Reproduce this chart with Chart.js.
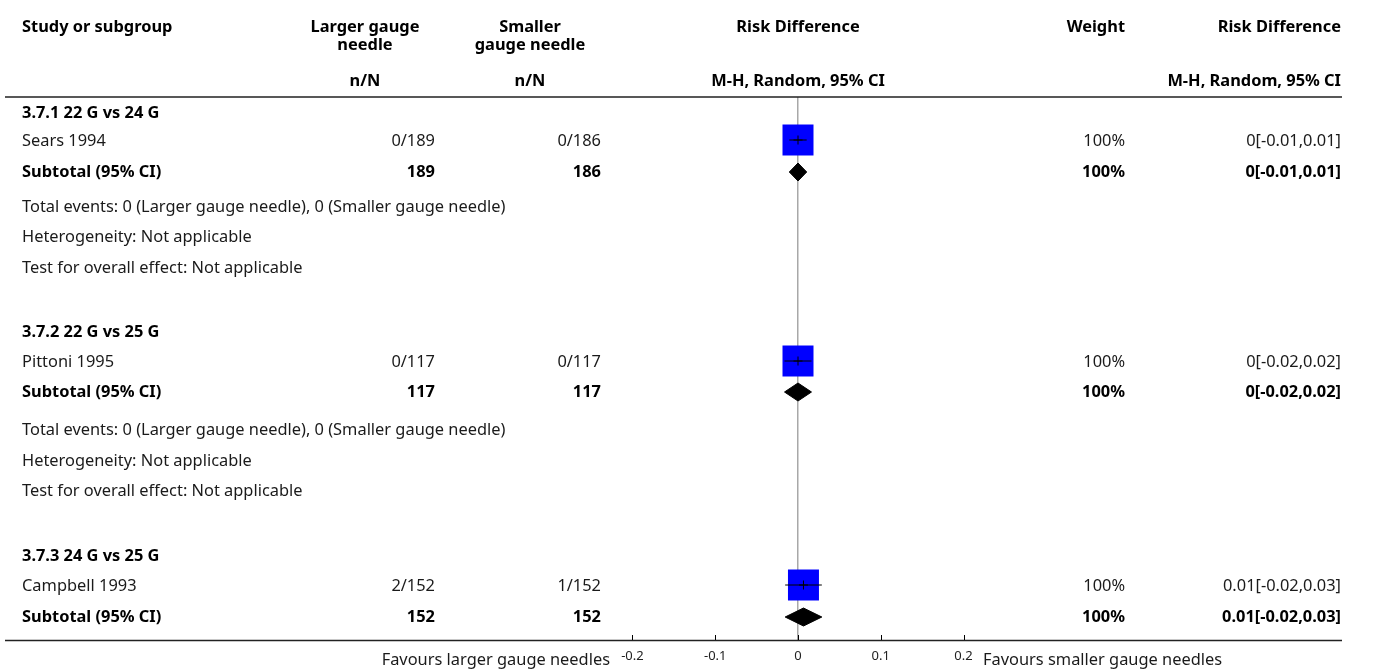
<!DOCTYPE html>
<html>
<head>
<meta charset="utf-8">
<script src="https://cdn.jsdelivr.net/npm/chart.js@4/dist/chart.umd.min.js"></script>
<style>
  html, body { margin: 0; padding: 0; background: #fff; }
  #wrap { width: 1375px; height: 671px; }
</style>
</head>
<body>
<div id="wrap"><canvas id="forest" width="1375" height="671"></canvas></div>
<script>
// ---- data ----
const groupTitles = ["3.7.1 22 G vs 24 G", "3.7.2 22 G vs 25 G", "3.7.3 24 G vs 25 G"];
const studyNames = ["Sears 1994", "Pittoni 1995", "Campbell 1993"];
const largerEvents = [0, 0, 2];
const largerTotal = [189, 117, 152];
const smallerEvents = [0, 0, 1];
const smallerTotal = [186, 117, 152];
const studyRD = [0, 0, 0.0066];
const studyLow = [-0.0105, -0.0163, -0.0155];
const studyHigh = [0.0105, 0.0163, 0.0288];
const subtotalRD = [0, 0, 0.0066];
const subtotalLow = [-0.0105, -0.0163, -0.0155];
const subtotalHigh = [0.0105, 0.0163, 0.0288];
const weights = ["100%", "100%", "100%"];
const rdLabels = ["0[-0.01,0.01]", "0[-0.02,0.02]", "0.01[-0.02,0.03]"];
const totalEvents = [
  "Total events: 0 (Larger gauge needle), 0 (Smaller gauge needle)",
  "Total events: 0 (Larger gauge needle), 0 (Smaller gauge needle)",
  null
];
const heterogeneity = ["Heterogeneity: Not applicable", "Heterogeneity: Not applicable", null];
const overallEffect = ["Test for overall effect: Not applicable", "Test for overall effect: Not applicable", null];
const tickValues = [-0.2, -0.1, 0, 0.1, 0.2];

// ---- layout (px below the header rule) ----
// heading, study, subtotal, total events, heterogeneity, overall effect
const rowY = [
  [16, 44, 75, 110, 140, 171],
  [235, 265, 295, 333, 364, 394],
  [459, 489, 520]
];
const TEXT = "#1a1a1a";
const FAMILY = "'Noto Sans', 'Open Sans', sans-serif";
const SIZE = 16.4;
const normal = SIZE + "px " + FAMILY;
const bold = "bold " + SIZE + "px " + FAMILY;
const DIAMOND_HALF = 9; // px, half height of the subtotal diamonds
const SQUARE_SIDE = 31;

const X_LEFT = 625, X_RIGHT = 971, TOP = 97, BOTTOM = 640;
const COL_STUDY = 22, COL_L = 435, COL_S = 601, COL_W = 1125, COL_RD = 1341;

// one dataset per CI whisker
const ciSets = studyNames.map((n, i) => ({
  data: [{ x: studyLow[i], y: rowY[i][1] - 1 }, { x: studyHigh[i], y: rowY[i][1] - 1 }],
  showLine: true, borderColor: "#000", borderWidth: 1, pointRadius: 0
}));

const crossSet = {
  data: studyRD.map((v, i) => ({ x: v, y: rowY[i][1] - 1 })),
  pointStyle: "cross", pointRadius: 4.5, borderColor: "#000", borderWidth: 1
};

const squareSet = {
  data: studyRD.map((v, i) => ({ x: v, y: rowY[i][1] - 1 })),
  pointStyle: "rect", pointRadius: SQUARE_SIDE / Math.SQRT2,
  backgroundColor: "#0000ff", borderWidth: 0
};

// diamonds need y spread in scale units; y scale runs 1 unit per px
const diamondSets = subtotalRD.map((v, i) => {
  const y = rowY[i][2];
  return {
    data: [
      { x: subtotalLow[i], y: y },
      { x: v, y: y - DIAMOND_HALF },
      { x: subtotalHigh[i], y: y },
      { x: v, y: y + DIAMOND_HALF },
      { x: subtotalLow[i], y: y }
    ],
    showLine: true, fill: "shape", backgroundColor: "#000", borderColor: "#000",
    borderWidth: 1, pointRadius: 0, tension: 0
  };
});

const tablePlugin = {
  id: "table",
  afterDraw(chart) {
    const ctx = chart.ctx;
    const ys = chart.scales.y;
    const xs = chart.scales.x;
    ctx.save();
    ctx.fillStyle = TEXT;
    ctx.textBaseline = "middle";

    const put = (txt, x, y, align, font, color) => {
      ctx.font = font;
      ctx.textAlign = align;
      ctx.fillStyle = color || TEXT;
      ctx.fillText(txt, x, y);
    };

    // header
    put("Study or subgroup", COL_STUDY, 27, "left", bold, "#000");
    put("Larger gauge", 365, 27, "center", bold, "#000");
    put("needle", 365, 45, "center", bold, "#000");
    put("Smaller", 530, 27, "center", bold, "#000");
    put("gauge needle", 530, 45, "center", bold, "#000");
    put("n/N", 365, 81, "center", bold, "#000");
    put("n/N", 530, 81, "center", bold, "#000");
    put("Risk Difference", xs.getPixelForValue(0), 27, "center", bold, "#000");
    put("M-H, Random, 95% CI", xs.getPixelForValue(0), 81, "center", bold, "#000");
    put("Weight", COL_W, 27, "right", bold, "#000");
    put("Risk Difference", COL_RD, 27, "right", bold, "#000");
    put("M-H, Random, 95% CI", COL_RD, 81, "right", bold, "#000");

    // body
    groupTitles.forEach((g, i) => {
      const r = rowY[i].map(v => ys.getPixelForValue(v));
      put(g, COL_STUDY, r[0], "left", bold, "#000");
      put(studyNames[i], COL_STUDY, r[1], "left", normal);
      put(largerEvents[i] + "/" + largerTotal[i], COL_L, r[1], "right", normal);
      put(smallerEvents[i] + "/" + smallerTotal[i], COL_S, r[1], "right", normal);
      put(weights[i], COL_W, r[1], "right", normal);
      put(rdLabels[i], COL_RD, r[1], "right", normal);
      put("Subtotal (95% CI)", COL_STUDY, r[2], "left", bold, "#000");
      put(String(largerTotal[i]), COL_L, r[2], "right", bold, "#000");
      put(String(smallerTotal[i]), COL_S, r[2], "right", bold, "#000");
      put(weights[i], COL_W, r[2], "right", bold, "#000");
      put(rdLabels[i], COL_RD, r[2], "right", bold, "#000");
      if (totalEvents[i]) put(totalEvents[i], COL_STUDY, r[3], "left", normal);
      if (heterogeneity[i]) put(heterogeneity[i], COL_STUDY, r[4], "left", normal);
      if (overallEffect[i]) put(overallEffect[i], COL_STUDY, r[5], "left", normal);
    });

    // footer
    put("Favours larger gauge needles", 610, 660, "right", normal);
    put("Favours smaller gauge needles", 983, 660, "left", normal);

    // rules
    ctx.strokeStyle = "#222";
    ctx.lineWidth = 1.5;
    ctx.beginPath();
    ctx.moveTo(5, TOP); ctx.lineTo(1342, TOP);
    ctx.moveTo(5, BOTTOM + 0.5); ctx.lineTo(1342, BOTTOM + 0.5);
    ctx.stroke();

    // upward tick marks on the axis
    ctx.strokeStyle = "#000";
    ctx.lineWidth = 1;
    ctx.beginPath();
    tickValues.forEach(v => {
      const px = Math.round(xs.getPixelForValue(v)) + 0.5;
      ctx.moveTo(px, BOTTOM); ctx.lineTo(px, BOTTOM - 5);
    });
    ctx.stroke();
    ctx.restore();
  }
};

new Chart(document.getElementById("forest"), {
  type: "scatter",
  data: { datasets: [crossSet, ...ciSets, squareSet, ...diamondSets] },
  options: {
    responsive: false,
    animation: false,
    events: [],
    clip: false,
    layout: { padding: { left: X_LEFT, right: 1375 - X_RIGHT, top: TOP, bottom: 0 } },
    plugins: { legend: { display: false }, tooltip: { enabled: false } },
    scales: {
      x: {
        type: "linear",
        min: -0.209,
        max: 0.209,
        afterBuildTicks: scale => { scale.ticks = tickValues.map(v => ({ value: v })); },
        afterFit: scale => { scale.height = 671 - BOTTOM; },
        border: { display: true, color: "#222", width: 1 },
        grid: {
          drawTicks: false,
          color: c => (c.tick && c.tick.value === 0 ? "#a8a8a8" : "rgba(0,0,0,0)"),
          lineWidth: 1.5
        },
        ticks: {
          padding: 8,
          color: "#222",
          font: { family: FAMILY, size: 13 },
          callback: v => String(Math.round(v * 10) / 10)
        }
      },
      y: {
        type: "linear",
        display: false,
        reverse: true,
        min: 0,
        max: BOTTOM - TOP
      }
    }
  },
  plugins: [tablePlugin]
});
</script>
</body>
</html>
